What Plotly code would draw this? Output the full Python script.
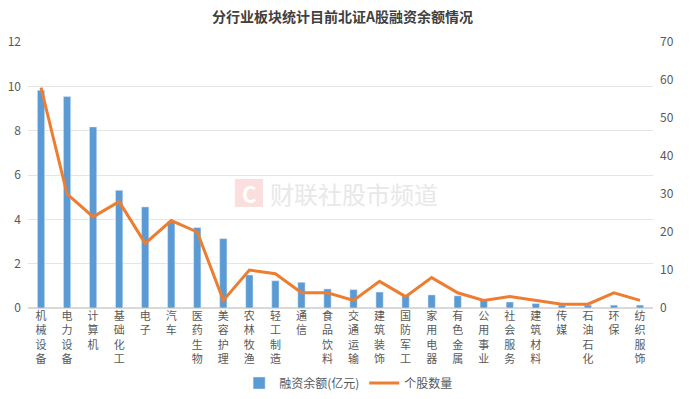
import plotly.graph_objects as go

categories = ["机械设备", "电力设备", "计算机", "基础化工", "电子", "汽车", "医药生物", "美容护理",
              "农林牧渔", "轻工制造", "通信", "食品饮料", "交通运输", "建筑装饰", "国防军工", "家用电器",
              "有色金属", "公用事业", "社会服务", "建筑材料", "传媒", "石油石化", "环保", "纺织服饰"]
balance = [9.82, 9.54, 8.17, 5.31, 4.56, 3.9, 3.63, 3.13, 1.49, 1.23, 1.16, 0.86,
           0.83, 0.72, 0.58, 0.59, 0.55, 0.38, 0.27, 0.2, 0.13, 0.13, 0.13, 0.13]
counts = [58, 30, 24, 28, 17, 23, 20, 2, 10, 9, 4, 4, 2, 7, 3, 8, 4, 2, 3, 2, 1, 1, 4, 2]
left_ticks = [0, 2, 4, 6, 8, 10, 12]
right_ticks = [0, 10, 20, 30, 40, 50, 60, 70]

tick_text = ["<br>".join(list(c)) for c in categories]
FONT = "Noto Sans CJK SC, Microsoft YaHei, sans-serif"

fig = go.Figure()
fig.add_trace(go.Bar(x=categories, y=balance, name="融资余额(亿元)", marker_color="#5B9BD5",
                     width=0.28, yaxis="y"))
fig.add_trace(go.Scatter(x=categories, y=counts, name="个股数量", mode="lines",
                         line=dict(color="#ED7D31", width=3), yaxis="y2"))

fig.update_layout(
    width=692, height=399,
    margin=dict(l=28, r=39, t=42, b=91, autoexpand=False),
    paper_bgcolor="white", plot_bgcolor="white",
    font=dict(family=FONT, size=12, color="#595959"),
    title=dict(text="<b>分行业板块统计目前北证A股融资余额情况</b>", x=0.495, xanchor="center",
               y=0.957, yanchor="middle", font=dict(size=14, color="#404040", family=FONT)),
    xaxis=dict(tickmode="array", tickvals=categories, ticktext=tick_text, tickangle=0,
               showgrid=False, showline=False, ticks="", automargin=False,
               tickfont=dict(size=11, color="#595959")),
    yaxis=dict(range=[0, 12], tickvals=left_ticks, showgrid=True, gridcolor="#E5E5E5",
               gridwidth=1, zeroline=True, zerolinecolor="#D9D9D9", ticks="", automargin=False,
               ticklabelstandoff=6, tickfont=dict(size=12, color="#595959")),
    yaxis2=dict(range=[0, 70], tickvals=right_ticks, overlaying="y", side="right",
                showgrid=False, zeroline=False, ticks="", automargin=False,
                ticklabelstandoff=6, tickfont=dict(size=12, color="#595959")),
    legend=dict(orientation="h", x=0.513, xanchor="center", y=-0.282, yanchor="middle",
                font=dict(size=12, color="#595959"), traceorder="normal"),
    showlegend=True,
)

# watermark
fig.add_shape(type="rect", xref="paper", yref="paper", x0=0.331, x1=0.376, y0=0.38, y1=0.485,
              fillcolor="#FBDEDE", line=dict(width=0), layer="below")
fig.add_annotation(text="<b>C</b>", xref="paper", yref="paper", x=0.3535, y=0.4325, showarrow=False,
                   font=dict(size=22, color="white", family=FONT))
fig.add_annotation(text="财联社股市频道", xref="paper", yref="paper", x=0.384, y=0.432, xanchor="left",
                   yanchor="middle", showarrow=False, font=dict(size=24, color="#E8E8E8", family=FONT))

fig.write_html("out.html", config={"displayModeBar": False},
               post_script="document.body.style.margin='0';document.body.style.overflow='hidden';")
